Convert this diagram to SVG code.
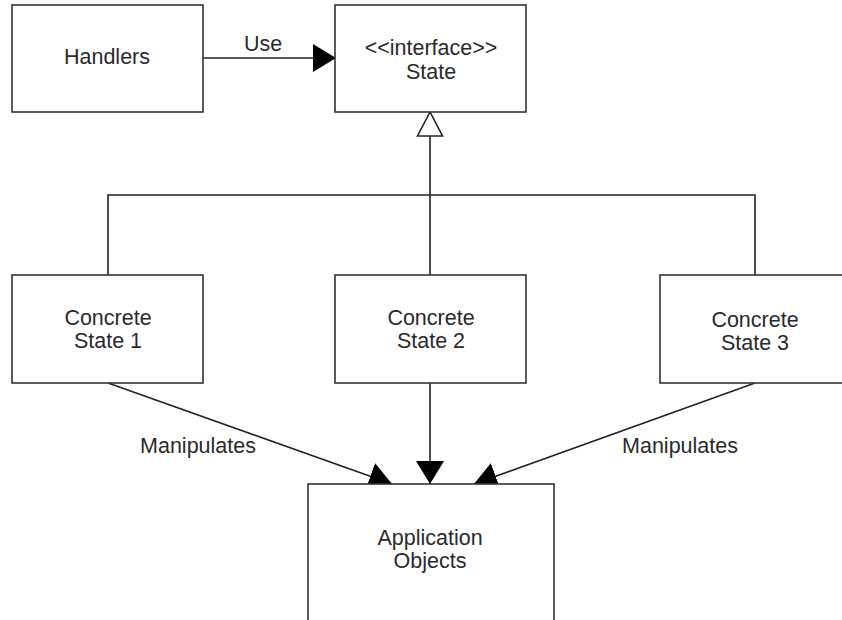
<svg xmlns="http://www.w3.org/2000/svg" width="842" height="620" viewBox="0 0 842 620">
  <style>
    .box { fill: #ffffff; stroke: #333333; stroke-width: 1.6; }
    .lbl { font-family: "Liberation Sans", Arial, sans-serif; font-size: 21.5px; fill: #2a2a2a; text-anchor: middle; }
    .edge { fill: none; stroke: #222222; stroke-width: 1.6; }
  </style>
  <defs>
    <marker id="solid" viewBox="0 0 23 28" refX="23" refY="14" markerWidth="23" markerHeight="28" markerUnits="userSpaceOnUse" orient="auto">
      <path d="M0,0 L23,14 L0,28 Z" fill="#000000"/>
    </marker>
  </defs>

  <rect width="842" height="620" fill="#ffffff"/>

  <!-- connectors -->
  <g id="connectors">
    <line class="edge" x1="203" y1="58" x2="336" y2="58" marker-end="url(#solid)"/>
    <text class="lbl" x="263" y="51">Use</text>

    <!-- generalisation tree -->
    <line class="edge" x1="430" y1="136" x2="430" y2="275"/>
    <polyline class="edge" points="108,275 108,195 755,195 755,275"/>
    <polygon points="430,112 417.5,136 442.5,136" fill="#ffffff" stroke="#222222" stroke-width="1.6"/>

    <!-- manipulation links -->
    <line class="edge" x1="108" y1="383" x2="392" y2="484" marker-end="url(#solid)"/>
    <line class="edge" x1="430" y1="383" x2="430" y2="484" marker-end="url(#solid)"/>
    <line class="edge" x1="755" y1="383" x2="474" y2="484" marker-end="url(#solid)"/>
    <text class="lbl" x="198" y="453">Manipulates</text>
    <text class="lbl" x="680" y="453">Manipulates</text>
  </g>

  <!-- nodes -->
  <g id="handlers">
    <rect class="box" x="12" y="5" width="191" height="107"/>
    <text class="lbl" x="107" y="64">Handlers</text>
  </g>
  <g id="state">
    <rect class="box" x="335" y="5" width="191" height="107"/>
    <text class="lbl" x="431" y="55">&lt;&lt;interface&gt;&gt;</text>
    <text class="lbl" x="431" y="79">State</text>
  </g>
  <g id="concrete-state-1">
    <rect class="box" x="12" y="275" width="191" height="108"/>
    <text class="lbl" x="108" y="325">Concrete</text>
    <text class="lbl" x="108" y="348">State 1</text>
  </g>
  <g id="concrete-state-2">
    <rect class="box" x="335" y="275" width="191" height="108"/>
    <text class="lbl" x="431" y="325">Concrete</text>
    <text class="lbl" x="431" y="348">State 2</text>
  </g>
  <g id="concrete-state-3">
    <rect class="box" x="660" y="275" width="200" height="108"/>
    <text class="lbl" x="755" y="327">Concrete</text>
    <text class="lbl" x="755" y="350">State 3</text>
  </g>
  <g id="application-objects">
    <rect class="box" x="308" y="484" width="246" height="150"/>
    <text class="lbl" x="430" y="545">Application</text>
    <text class="lbl" x="430" y="568">Objects</text>
  </g>
</svg>
